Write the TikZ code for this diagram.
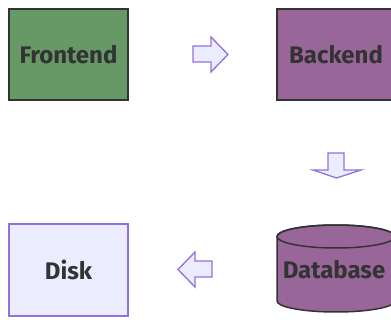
\documentclass[tikz,border=0pt]{standalone}
\usepackage{fontspec}
\setmainfont{Fira Sans}
\definecolor{txt}{HTML}{333333}
\definecolor{green}{HTML}{669966}
\definecolor{purp}{HTML}{996699}
\definecolor{lav}{HTML}{ECECFF}
\definecolor{lavline}{HTML}{9370DB}
\tikzset{
  x=1pt, y=-1pt,
  lbl/.style={text=txt, font=\fontsize{24}{28}\selectfont\bfseries, inner sep=0pt},
  darkbox/.style={draw=txt, line width=1.5pt},
  blockarrow/.style={draw=lavline, fill=lav, line width=1.3pt, line join=miter},
}
\begin{document}
\begin{tikzpicture}
\useasboundingbox (0,0) rectangle (391,320);
\begin{scope}
\clip (0,0) rectangle (391,320);
% Frontend
\draw[darkbox, fill=green] (9,9) rectangle (128,100);
\node[lbl] (front) at (68.5,54.5) {Frontend};
% Backend
\draw[darkbox, fill=purp] (277,9) rectangle (396,100);
\node[lbl] (back) at (336,54.5) {Backend};
% Database cylinder
\draw[darkbox, fill=purp] (277,236.5) -- (277,301)
  arc[start angle=180, end angle=0, x radius=59, y radius=11]
  -- (395,236.5)
  arc[start angle=360, end angle=180, x radius=59, y radius=11.5] -- cycle;
\draw[darkbox] (336,236.5) ellipse[x radius=59, y radius=11.5];
\node[lbl] (db) at (334,270) {Database};
% Disk
\draw[draw=lavline, fill=lav, line width=1.5pt] (9,224) rectangle (128,316);
\node[lbl] (disk) at (68.5,270) {Disk};
% arrows
\draw[blockarrow] (193,46) -- (211,46) -- (211,37) -- (228,54.5) -- (211,72) -- (211,62) -- (193,62) -- cycle;
\draw[blockarrow] (328,153) -- (344,153) -- (344,170) -- (361,170) -- (336.5,178) -- (313,170) -- (328,170) -- cycle;
\draw[blockarrow] (212,261) -- (195,261) -- (195,252) -- (178,269.5) -- (195,287) -- (195,277) -- (212,277) -- cycle;
\end{scope}
\end{tikzpicture}
\end{document}
